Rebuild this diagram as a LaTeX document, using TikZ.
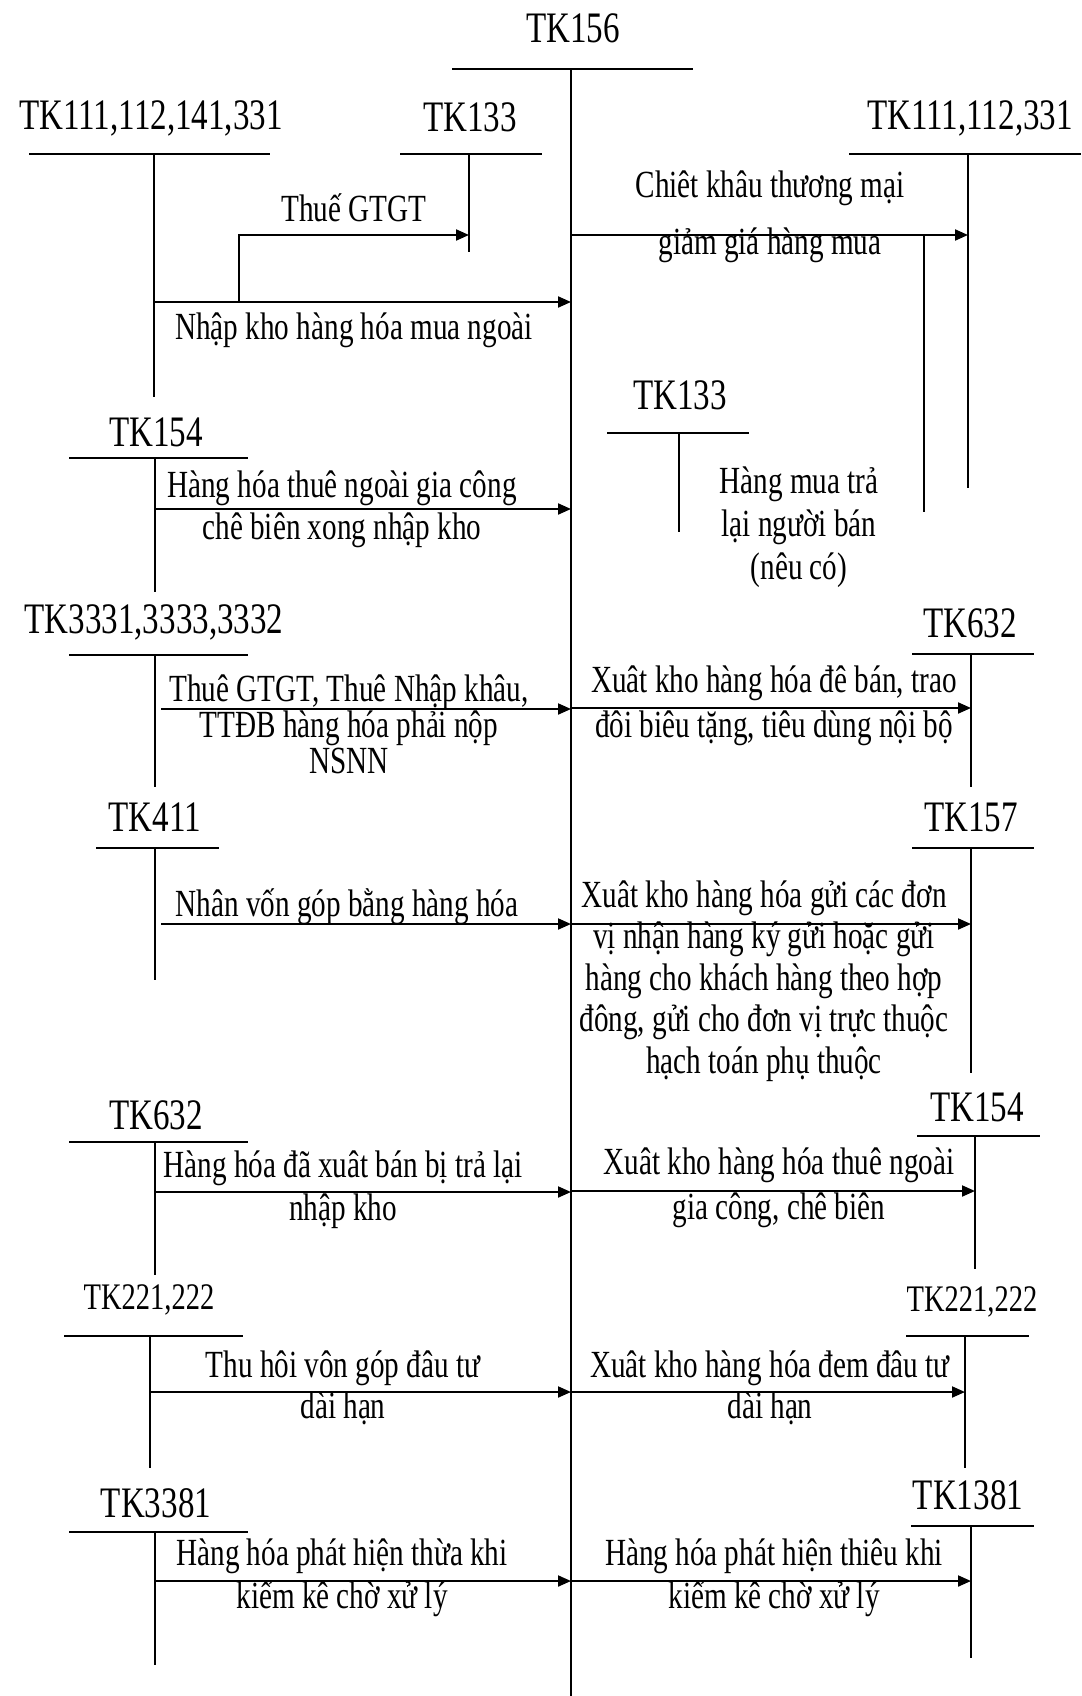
\documentclass[tikz,border=0pt]{standalone}
\usepackage{fontspec}
\setmainfont{Liberation Serif}[FakeStretch=0.76]
\usetikzlibrary{arrows.meta}
\tikzset{
  acc/.style={font=\fontsize{43.5}{43.5}\selectfont, inner sep=0pt},
  accs/.style={font=\fontsize{37.5}{37.5}\selectfont, inner sep=0pt},
  desc/.style={font=\fontsize{38.4}{42}\selectfont, align=center, inner sep=0pt},
  ln/.style={line width=2pt},
  arr/.style={line width=2pt, -{Triangle[length=13pt,width=11pt]}},
}
\begin{document}
\begin{tikzpicture}[x=1pt,y=-1pt]
\useasboundingbox[fill=white] (0,0) rectangle (1081,1696);

% ---------- TK156 (main) ----------
\node[acc] (tk156) at (573,28) {TK156};
\coordinate (m1) at (452,69); \coordinate (m2) at (693,69);
\coordinate (mT) at (571,69); \coordinate (mB) at (571,1696);
\draw[ln] (m1) -- (m2); \draw[ln] (mT) -- (mB);

% ---------- TK111,112,141,331 ----------
\node[acc] (a1) at (151,118) {TK111,112,141,331};
\coordinate (a1L) at (29,154); \coordinate (a1R) at (270,154);
\coordinate (a1T) at (154,154); \coordinate (a1B) at (154,397);
\draw[ln] (a1L) -- (a1R); \draw[ln] (a1T) -- (a1B);

% ---------- TK133 (top) ----------
\node[acc] (a2) at (470,117) {TK133};
\coordinate (a2L) at (400,154); \coordinate (a2R) at (542,154);
\coordinate (a2T) at (469,154); \coordinate (a2B) at (469,252);
\draw[ln] (a2L) -- (a2R); \draw[ln] (a2T) -- (a2B);

\coordinate (a1o) at (154,302); \coordinate (m_a1) at (571,302);
\coordinate (br) at (239,302); \coordinate (brT) at (239,235); \coordinate (a2i) at (469,235);
\draw[arr] (a1o) -- (m_a1);
\draw[arr] (br) -- (brT) -- (a2i);
\node[desc] (t1) at (354,208) {Thuế GTGT};
\node[desc] (t2) at (354,330) {Nhập kho hàng hóa mua ngoài};

% ---------- TK111,112,331 (right top) ----------
\node[acc] (a3) at (970,118) {TK111,112,331};
\coordinate (a3L) at (849,154); \coordinate (a3R) at (1081,154);
\coordinate (a3T) at (968,154); \coordinate (a3B) at (968,488);
\draw[ln] (a3L) -- (a3R); \draw[ln] (a3T) -- (a3B);
\coordinate (m_a3) at (571,235); \coordinate (a3i) at (968,235);
\draw[arr] (m_a3) -- (a3i);
\node[desc] (t3) at (770,217) {Chiêt khâu thương mại\\[15pt]giảm giá hàng mua};
\coordinate (v2T) at (924,235); \coordinate (v2B) at (924,512);
\draw[ln] (v2T) -- (v2B);

% ---------- TK133 (middle) ----------
\node[acc] (a4) at (680,395) {TK133};
\coordinate (a4L) at (607,433); \coordinate (a4R) at (749,433);
\coordinate (a4T) at (679,433); \coordinate (a4B) at (679,532);
\draw[ln] (a4L) -- (a4R); \draw[ln] (a4T) -- (a4B);
\node[desc] (t4) at (799,527) {Hàng mua trả\\[1pt]lại người bán\\[1pt](nêu có)};

% ---------- TK154 (left) ----------
\node[acc] (a5) at (156,432) {TK154};
\coordinate (a5L) at (69,458); \coordinate (a5R) at (248,458);
\coordinate (a5T) at (155,458); \coordinate (a5B) at (155,592);
\draw[ln] (a5L) -- (a5R); \draw[ln] (a5T) -- (a5B);
\coordinate (a5o) at (155,509); \coordinate (m_a5) at (571,509);
\draw[arr] (a5o) -- (m_a5);
\node[desc] (t5) at (342,509) {Hàng hóa thuê ngoài gia công\\[0pt]chê biên xong nhập kho};

% ---------- TK3331,3333,3332 ----------
\node[acc] (a6) at (154,622) {TK3331,3333,3332};
\coordinate (a6L) at (69,655); \coordinate (a6R) at (248,655);
\coordinate (a6T) at (155,655); \coordinate (a6B) at (155,787);
\draw[ln] (a6L) -- (a6R); \draw[ln] (a6T) -- (a6B);
\coordinate (a6o) at (161,709); \coordinate (m_a6) at (571,709);
\draw[arr] (a6o) -- (m_a6);
\node[desc] (t6) at (349,724) {Thuê GTGT, Thuê Nhập khâu,\\[-6pt]TTĐB hàng hóa phải nộp\\[-6pt]NSNN};

% ---------- TK632 (right) ----------
\node[acc] (a7) at (970,623) {TK632};
\coordinate (a7L) at (912,654); \coordinate (a7R) at (1034,654);
\coordinate (a7T) at (971,654); \coordinate (a7B) at (971,787);
\draw[ln] (a7L) -- (a7R); \draw[ln] (a7T) -- (a7B);
\coordinate (m_a7) at (571,708); \coordinate (a7i) at (971,708);
\draw[arr] (m_a7) -- (a7i);
\node[desc] (t7) at (774,706) {Xuât kho hàng hóa đê bán, trao\\[3pt]đôi biêu tặng, tiêu dùng nội bộ};

% ---------- TK411 ----------
\node[acc] (a8) at (155,817) {TK411};
\coordinate (a8L) at (96,848); \coordinate (a8R) at (219,848);
\coordinate (a8T) at (155,848); \coordinate (a8B) at (155,980);
\draw[ln] (a8L) -- (a8R); \draw[ln] (a8T) -- (a8B);
\coordinate (a8o) at (161,924); \coordinate (m_a8) at (571,924);
\draw[arr] (a8o) -- (m_a8);
\node[desc] (t8) at (347,907) {Nhân vốn góp bằng hàng hóa};

% ---------- TK157 ----------
\node[acc] (a9) at (971,817) {TK157};
\coordinate (a9L) at (912,848); \coordinate (a9R) at (1034,848);
\coordinate (a9T) at (971,848); \coordinate (a9B) at (971,1073);
\draw[ln] (a9L) -- (a9R); \draw[ln] (a9T) -- (a9B);
\coordinate (m_a9) at (571,924); \coordinate (a9i) at (971,924);
\draw[arr] (m_a9) -- (a9i);
\node[desc, font=\fontsize{38.4}{41.5}\selectfont] (t9) at (764,981) {Xuât kho hàng hóa gửi các đơn\\vị nhận hàng ký gửi hoặc gửi\\hàng cho khách hàng theo hợp\\đông, gửi cho đơn vị trực thuộc\\hạch toán phụ thuộc};

% ---------- TK632 (left) ----------
\node[acc] (a10) at (156,1115) {TK632};
\coordinate (a10L) at (69,1142); \coordinate (a10R) at (248,1142);
\coordinate (a10T) at (155,1142); \coordinate (a10B) at (155,1275);
\draw[ln] (a10L) -- (a10R); \draw[ln] (a10T) -- (a10B);
\coordinate (a10o) at (155,1192); \coordinate (m_a10) at (571,1192);
\draw[arr] (a10o) -- (m_a10);
\node[desc] (t10) at (343,1190) {Hàng hóa đã xuât bán bị trả lại\\[1pt]nhập kho};

% ---------- TK154 (right) ----------
\node[acc] (a11) at (977,1107) {TK154};
\coordinate (a11L) at (917,1136); \coordinate (a11R) at (1040,1136);
\coordinate (a11T) at (975,1136); \coordinate (a11B) at (975,1269);
\draw[ln] (a11L) -- (a11R); \draw[ln] (a11T) -- (a11B);
\coordinate (m_a11) at (571,1191); \coordinate (a11i) at (975,1191);
\draw[arr] (m_a11) -- (a11i);
\node[desc] (t11) at (779,1188) {Xuât kho hàng hóa thuê ngoài\\[3pt]gia công, chê biên};

% ---------- TK221,222 (left) ----------
\node[accs] (a12) at (149,1300) {TK221,222};
\coordinate (a12L) at (64,1336); \coordinate (a12R) at (243,1336);
\coordinate (a12T) at (150,1336); \coordinate (a12B) at (150,1468);
\draw[ln] (a12L) -- (a12R); \draw[ln] (a12T) -- (a12B);
\coordinate (a12o) at (150,1392); \coordinate (m_a12) at (571,1392);
\draw[arr] (a12o) -- (m_a12);
\node[desc] (t12) at (343,1388) {Thu hôi vôn góp đâu tư\\[-1pt]dài hạn};

% ---------- TK221,222 (right) ----------
\node[accs] (a13) at (972,1302) {TK221,222};
\coordinate (a13L) at (906,1336); \coordinate (a13R) at (1029,1336);
\coordinate (a13T) at (965,1336); \coordinate (a13B) at (965,1468);
\draw[ln] (a13L) -- (a13R); \draw[ln] (a13T) -- (a13B);
\coordinate (m_a13) at (571,1392); \coordinate (a13i) at (965,1392);
\draw[arr] (m_a13) -- (a13i);
\node[desc] (t13) at (770,1388) {Xuât kho hàng hóa đem đâu tư\\[-1pt]dài hạn};

% ---------- TK3381 ----------
\node[acc] (a14) at (156,1503) {TK3381};
\coordinate (a14L) at (69,1532); \coordinate (a14R) at (248,1532);
\coordinate (a14T) at (155,1532); \coordinate (a14B) at (155,1665);
\draw[ln] (a14L) -- (a14R); \draw[ln] (a14T) -- (a14B);
\coordinate (a14o) at (155,1581); \coordinate (m_a14) at (571,1581);
\draw[arr] (a14o) -- (m_a14);
\node[desc] (t14) at (342,1578) {Hàng hóa phát hiện thừa khi\\[1pt]kiểm kê chờ xử lý};

% ---------- TK1381 ----------
\node[acc] (a15) at (968,1495) {TK1381};
\coordinate (a15L) at (911,1526); \coordinate (a15R) at (1034,1526);
\coordinate (a15T) at (971,1526); \coordinate (a15B) at (971,1658);
\draw[ln] (a15L) -- (a15R); \draw[ln] (a15T) -- (a15B);
\coordinate (m_a15) at (571,1581); \coordinate (a15i) at (971,1581);
\draw[arr] (m_a15) -- (a15i);
\node[desc] (t15) at (774,1578) {Hàng hóa phát hiện thiêu khi\\[1pt]kiểm kê chờ xử lý};
\end{tikzpicture}
\end{document}
